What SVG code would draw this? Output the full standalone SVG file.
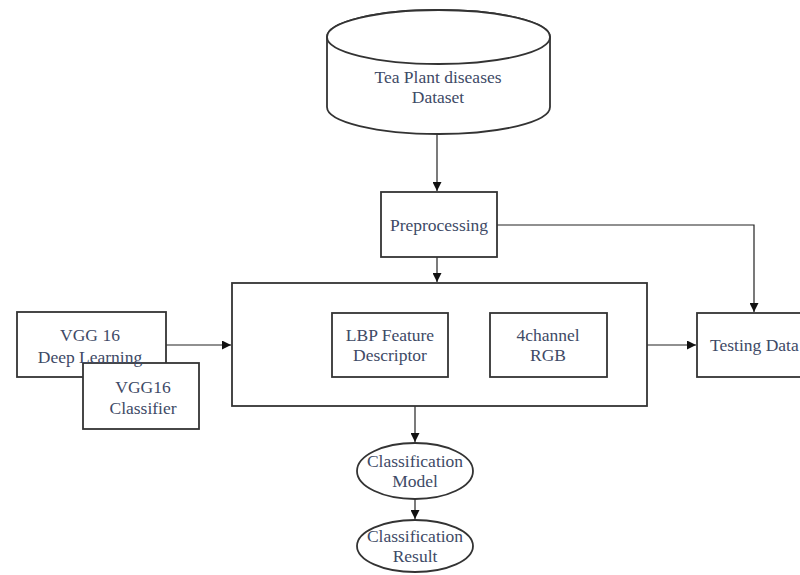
<svg xmlns="http://www.w3.org/2000/svg" width="800" height="575" viewBox="0 0 800 575">
<style>
.shape{fill:#fff;stroke:#333;stroke-width:1.8}
.line{fill:none;stroke:#222;stroke-width:1.2}
text{font-family:"Liberation Serif","DejaVu Serif",serif;font-size:17.5px;fill:#3e4a66;text-anchor:middle}
</style>
<defs>
<marker id="arr" viewBox="0 0 10 10" refX="10" refY="5" markerWidth="9" markerHeight="9" markerUnits="userSpaceOnUse" orient="auto">
<path d="M0,0 L10,5 L0,10 z" fill="#111"/>
</marker>
</defs>
<rect width="800" height="575" fill="#fff"/>
<g id="connectors">
<line class="line" x1="437" y1="134" x2="437" y2="191" marker-end="url(#arr)"/>
<line class="line" x1="437" y1="257" x2="437" y2="282" marker-end="url(#arr)"/>
<polyline class="line" points="497,225 754,225 754,312" marker-end="url(#arr)"/>
<line class="line" x1="166" y1="345" x2="231" y2="345" marker-end="url(#arr)"/>
<line class="line" x1="647" y1="345" x2="696" y2="345" marker-end="url(#arr)"/>
<line class="line" x1="415" y1="406" x2="415" y2="442" marker-end="url(#arr)"/>
<line class="line" x1="415" y1="500" x2="415" y2="519" marker-end="url(#arr)"/>
</g>
<g id="dataset">
<path class="shape" d="M327,37 L327,107 A111.5,27 0 0 0 550,107 L550,37 A111.5,27 0 0 0 327,37 Z"/>
<ellipse class="shape" cx="438.5" cy="37" rx="111.5" ry="27"/>
<text x="438" y="83">Tea Plant diseases</text>
<text x="438" y="103">Dataset</text>
</g>
<g id="preprocessing">
<rect class="shape" x="381" y="192" width="116" height="65"/>
<text x="439" y="231">Preprocessing</text>
</g>
<g id="main">
<rect class="shape" x="232" y="283" width="415" height="123"/>
</g>
<g id="lbp">
<rect class="shape" x="332" y="313" width="116" height="64"/>
<text x="390" y="341">LBP Feature</text>
<text x="390" y="361">Descriptor</text>
</g>
<g id="rgb">
<rect class="shape" x="490" y="313" width="117" height="64"/>
<text x="548" y="341">4channel</text>
<text x="548" y="361">RGB</text>
</g>
<g id="vgg-dl">
<rect class="shape" x="17" y="312" width="149" height="65"/>
<text x="90" y="341">VGG 16</text>
</g>
<g id="vgg-clf">
<rect class="shape" x="83" y="363" width="116" height="66"/>
<text x="143" y="393">VGG16</text>
<text x="143" y="414">Classifier</text>
</g>
<g id="vgg-dl-label">
<text x="90" y="363">Deep Learning</text>
</g>
<g id="testing">
<rect class="shape" x="697" y="313" width="110" height="64"/>
<text x="710" y="351" style="text-anchor:start">Testing Data</text>
</g>
<g id="model">
<ellipse class="shape" cx="415" cy="471" rx="58" ry="28"/>
<text x="415" y="467">Classification</text>
<text x="415" y="487">Model</text>
</g>
<g id="result">
<ellipse class="shape" cx="415" cy="546" rx="58" ry="26"/>
<text x="415" y="542">Classification</text>
<text x="415" y="562">Result</text>
</g>
</svg>
